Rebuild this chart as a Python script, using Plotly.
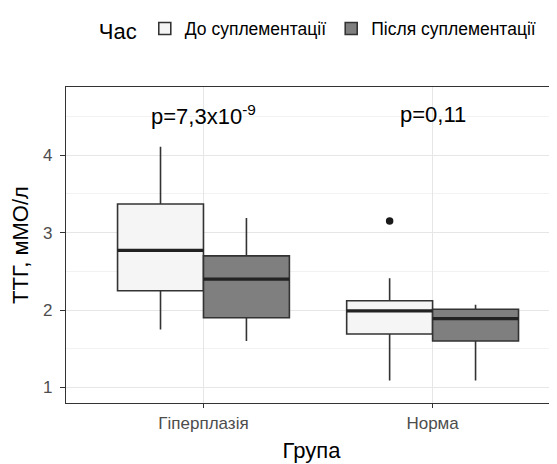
import plotly.graph_objects as go

groups = ["Гіперплазія", "Норма"]
series = ["До суплементації", "Після суплементації"]
fills = ["#f5f5f5", "#7f7f7f"]

# stats per series: [Гіперплазія, Норма]
lower = {"До суплементації": [1.75, 1.09], "Після суплементації": [1.60, 1.09]}
q1 = {"До суплементації": [2.25, 1.69], "Після суплементації": [1.90, 1.60]}
median = {"До суплементації": [2.77, 1.99], "Після суплементації": [2.40, 1.89]}
q3 = {"До суплементації": [3.37, 2.12], "Після суплементації": [2.70, 2.01]}
upper = {"До суплементації": [4.11, 2.41], "Після суплементації": [3.19, 2.07]}
outliers = {"До суплементації": [[], [3.15]], "Після суплементації": [[], []]}
pvals = ["p=7,3x10<sup>-9</sup>", "p=0,11"]

BOXW = 0.375
offsets = [-BOXW / 2, BOXW / 2]
LINE = "#333333"
FONT = "Liberation Sans, Arial, sans-serif"

fig = go.Figure()
for si, s in enumerate(series):
    xs = [gi + offsets[si] for gi in range(len(groups))]
    fig.add_trace(go.Box(
        x=xs, q1=q1[s], median=median[s], q3=q3[s],
        lowerfence=lower[s], upperfence=upper[s],
        width=BOXW, whiskerwidth=0, name=s,
        fillcolor=fills[si], line=dict(color=LINE, width=1.6),
        boxpoints=False, hoverinfo="skip",
    ))
    # thick median lines
    mx, my = [], []
    for gi in range(len(groups)):
        mx += [xs[gi] - BOXW / 2, xs[gi] + BOXW / 2, None]
        my += [median[s][gi], median[s][gi], None]
    fig.add_trace(go.Scatter(x=mx, y=my, mode="lines", line=dict(color="#222222", width=3.2),
                             showlegend=False, hoverinfo="skip"))
    ox, oy = [], []
    for gi in range(len(groups)):
        for v in outliers[s][gi]:
            ox.append(xs[gi]); oy.append(v)
    if ox:
        fig.add_trace(go.Scatter(x=ox, y=oy, mode="markers",
                                 marker=dict(color="#1a1a1a", size=7.5),
                                 showlegend=False, hoverinfo="skip"))

for gi, t in enumerate(pvals):
    fig.add_annotation(x=gi, y=4.52, text=t, showarrow=False, yanchor="middle",
                       font=dict(size=22, color="#000000", family=FONT))

# the page body adds an 8px offset, so the figure is sized to fit the window
fig.update_layout(
    width=549, height=456,
    margin=dict(l=58, r=0, t=79, b=61, autoexpand=False),
    paper_bgcolor="white", plot_bgcolor="white",
    font=dict(family=FONT, color="#000000"),
    boxmode="overlay",
    legend=dict(
        orientation="h", x=0.515, xanchor="center", y=1.18, yanchor="middle",
        title=dict(text="Час", font=dict(size=22), side="left"),
        font=dict(size=17.5), traceorder="normal",
    ),
    xaxis=dict(
        range=[-0.6, 1.543], tickmode="array", tickvals=list(range(len(groups))), ticktext=groups,
        showline=True, linecolor="#333333", linewidth=1.3, mirror=True,
        ticks="outside", ticklen=4, tickcolor="#333333",
        showgrid=True, gridcolor="#e6e6e6", gridwidth=1, zeroline=False,
        tickfont=dict(size=17, color="#4d4d4d"), automargin=False,
        title=dict(text="Група", font=dict(size=22), standoff=11),
    ),
    yaxis=dict(
        range=[0.80, 4.88], tickmode="array", tickvals=[1, 2, 3, 4],
        showline=True, linecolor="#333333", linewidth=1.3,
        ticks="outside", ticklen=5, tickcolor="#333333", ticklabelstandoff=4,
        showgrid=True, gridcolor="#e6e6e6", gridwidth=1, zeroline=False,
        minor=dict(tickvals=[1.5, 2.5, 3.5, 4.5], showgrid=True, gridcolor="#f2f2f2", gridwidth=0.8, ticks=""),
        tickfont=dict(size=17, color="#4d4d4d"), automargin=False,
        title=dict(text="ТТГ, мМО/л", font=dict(size=22), standoff=8),
    ),
)
fig.write_html("out.html")
